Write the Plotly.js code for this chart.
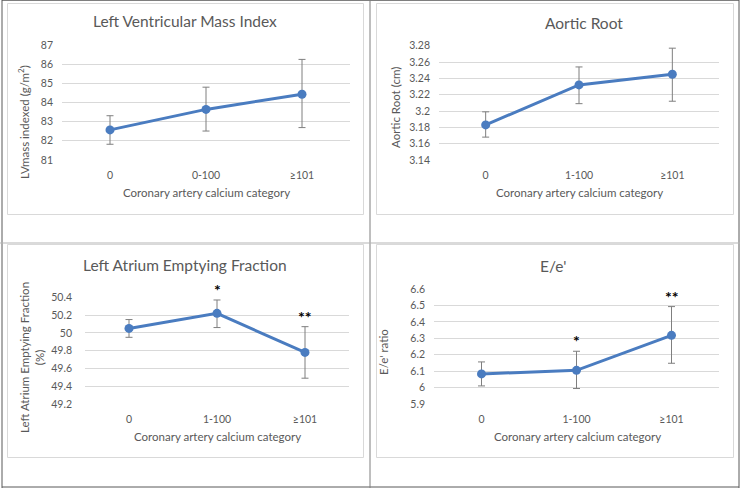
<!DOCTYPE html>
<html>
<head>
<meta charset="utf-8">
<script src="https://cdn.plot.ly/plotly-3.0.1.min.js"></script>
<style>html,body{margin:0;padding:0;background:#fff;}#chart{width:740px;height:488px;}</style>
</head>
<body>
<div id="chart"></div>
<script>
// ---- data ----
const catsLV = ['0', '0-100', '≥101'];
const cats = ['0', '1-100', '≥101'];

const lvmiMean = [82.57, 83.64, 84.43];
const lvmiHigh = [83.31, 84.80, 86.25];
const lvmiLow  = [81.82, 82.51, 82.69];

const aortMean = [3.183, 3.232, 3.245];
const aortHigh = [3.199, 3.254, 3.277];
const aortLow  = [3.168, 3.209, 3.212];

const laefMean = [50.05, 50.22, 49.78];
const laefHigh = [50.15, 50.37, 50.07];
const laefLow  = [49.95, 50.06, 49.49];

const eeMean = [6.083, 6.105, 6.318];
const eeHigh = [6.156, 6.221, 6.493];
const eeLow  = [6.010, 5.994, 6.148];

const laefStars = ['', '*', '**'];
const eeStars   = ['', '*', '**'];

const titles = ['Left Ventricular Mass Index', 'Aortic Root', 'Left Atrium Emptying Fraction', "E/e'"];
const yTitles = ['LVmass indexed (g/m<sup>2</sup>)', 'Aortic Root (cm)', 'Left Atrium Emptying Fraction<br>(%)', "E/e' ratio"];
const xTitle = 'Coronary artery calcium category';

// ---- helpers ----
const W = 740, H = 488;
const px = x => x / W;
const py = y => 1 - y / H;
const FONT = 'Lato, "Open Sans", sans-serif';
const GREY = '#595959';
const BLUE = '#4a7cc0';

function trace(cat, mean, hi, lo, n) {
  const s = n === 1 ? '' : String(n);
  return {
    type: 'scatter', mode: 'lines+markers',
    x: cat, y: mean,
    xaxis: 'x' + s, yaxis: 'y' + s,
    line: {color: BLUE, width: 3},
    marker: {color: BLUE, size: 9},
    error_y: {
      type: 'data', symmetric: false,
      array: hi.map((v, i) => v - mean[i]),
      arrayminus: mean.map((v, i) => v - lo[i]),
      color: '#7f7f7f', thickness: 1, width: 3.5
    },
    showlegend: false, hoverinfo: 'x+y'
  };
}

const data = [
  trace(catsLV, lvmiMean, lvmiHigh, lvmiLow, 1),
  trace(cats, aortMean, aortHigh, aortLow, 2),
  trace(cats, laefMean, laefHigh, laefLow, 3),
  trace(cats, eeMean, eeHigh, eeLow, 4)
];

function xa(x0, x1) {
  return {
    domain: [px(x0), px(x1)],
    type: 'category', range: [-0.5, 2.5],
    showgrid: false, zeroline: false, showline: false, ticks: '',
    tickfont: {family: FONT, size: 10.5, color: GREY},
    ticklabelstandoff: 7, fixedrange: true
  };
}
function ya(y0, y1, lo, hi, dtick, standoff) {
  const pad = dtick * 0.002;
  return {
    domain: [py(y1), py(y0)],
    range: [lo - pad, hi + pad], dtick: dtick, tick0: lo,
    showgrid: true, gridcolor: '#d9d9d9', gridwidth: 1,
    zeroline: false, showline: false, ticks: '',
    tickfont: {family: FONT, size: 10.5, color: GREY},
    ticklabelstandoff: standoff || 8, fixedrange: true
  };
}

const layout = {
  width: W, height: H,
  margin: {l: 0, r: 0, t: 0, b: 0},
  paper_bgcolor: '#ffffff', plot_bgcolor: 'rgba(0,0,0,0)',
  font: {family: FONT, color: GREY},
  xaxis:  Object.assign(xa(62, 350), {anchor: 'y'}),
  yaxis:  Object.assign(ya(45, 160, 81, 87, 1), {anchor: 'x'}),
  xaxis2: Object.assign(xa(439, 719), {anchor: 'y2'}),
  yaxis2: Object.assign(ya(45.7, 160, 3.14, 3.28, 0.02), {anchor: 'x2'}),
  xaxis3: Object.assign(xa(85, 349), {anchor: 'y3'}),
  yaxis3: Object.assign(ya(297.3, 404, 49.2, 50.4, 0.2, 12), {anchor: 'x3'}),
  xaxis4: Object.assign(xa(434, 719), {anchor: 'y4'}),
  yaxis4: Object.assign(ya(289, 404, 5.9, 6.6, 0.1), {anchor: 'x4'}),
  shapes: [],
  annotations: []
};

// frame and panel borders
function rect(x0, y0, x1, y1, color) {
  layout.shapes.push({type: 'rect', xref: 'paper', yref: 'paper',
    x0: px(x0), x1: px(x1), y0: py(y0), y1: py(y1),
    line: {color: color, width: 1}, fillcolor: 'rgba(0,0,0,0)', layer: 'below'});
}
function line(x0, y0, x1, y1, color) {
  layout.shapes.push({type: 'line', xref: 'paper', yref: 'paper',
    x0: px(x0), x1: px(x1), y0: py(y0), y1: py(y1),
    line: {color: color, width: 1}, layer: 'below'});
}
rect(7.5, 3.5, 363.5, 214.5, '#d9d9d9');
rect(376.5, 3.5, 733.5, 214.5, '#d9d9d9');
rect(7.5, 244.5, 363.5, 457.5, '#d9d9d9');
rect(376.5, 244.5, 733.5, 457.5, '#d9d9d9');
line(2, 0.5, 739, 0.5, '#7f7f7f');
line(2, 487, 739, 487, '#595959');
line(2, 0, 2, 488, '#595959');
line(739, 0, 739, 488, '#595959');
line(370, 0, 370, 488, '#7f7f7f');
line(0, 243, 740, 243, '#b5b5b5');

function ann(text, x, y, size, angle) {
  layout.annotations.push({
    text: text, xref: 'paper', yref: 'paper', x: px(x), y: py(y),
    xanchor: 'center', yanchor: 'middle', showarrow: false,
    textangle: angle || 0,
    font: {family: FONT, size: size, color: GREY}
  });
}
// chart titles
ann(titles[0], 185, 21, 15.5);
ann(titles[1], 584, 23, 15.5);
ann(titles[2], 185, 265, 15.5);
ann(titles[3], 553, 266, 15.5);
// y axis titles
ann(yTitles[0], 23, 122, 11.5, -90);
ann(yTitles[1], 395, 108, 11.5, -90);
ann(yTitles[2], 32, 358, 11.5, -90);
ann(yTitles[3], 383, 352, 11.5, -90);
// x axis titles
ann(xTitle, 206, 193, 11.5);
ann(xTitle, 579, 193, 11.5);
ann(xTitle, 217, 436, 11.5);
ann(xTitle, 577, 436, 11.5);

// significance markers
function stars(labels, catArr, hi, n) {
  labels.forEach((t, i) => {
    if (!t) return;
    layout.annotations.push({
      text: '<b>' + t + '</b>', xref: 'x' + n, yref: 'y' + n,
      x: catArr[i], y: hi[i], xanchor: 'center', yanchor: 'bottom',
      showarrow: false, yshift: -1,
      font: {family: FONT, size: 16, color: '#000000'}
    });
  });
}
stars(laefStars, cats, laefHigh, 3);
stars(eeStars, cats, eeHigh, 4);

Plotly.newPlot('chart', data, layout, {displayModeBar: false, staticPlot: true});
</script>
</body>
</html>
